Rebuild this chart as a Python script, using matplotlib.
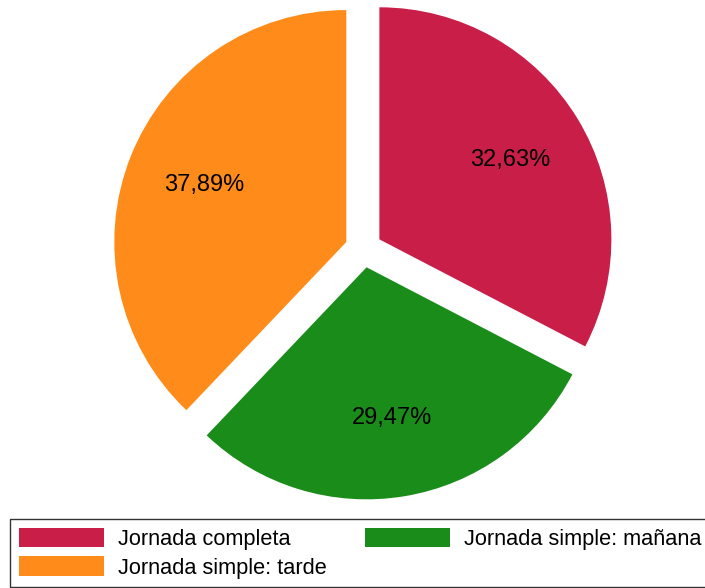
import matplotlib.pyplot as plt
from matplotlib.patches import Patch

plt.rcParams['font.family'] = ['Liberation Sans', 'DejaVu Sans']

# data
labels = ['Jornada completa', 'Jornada simple: mañana', 'Jornada simple: tarde']
counts = [31, 28, 36]
colors = ['#C81E48', '#1A8C1A', '#FF8C1A']

fig = plt.figure(figsize=(7.05, 5.88), dpi=100)
ax = fig.add_axes([0, 0, 1, 1])

ax.pie(counts, colors=colors, startangle=90, counterclock=False,
       explode=[0.08] * len(counts), autopct='%.2f%%', pctdistance=0.66,
       textprops={'fontsize': 17, 'color': 'black'},
       wedgeprops={'linewidth': 0})

# replace decimal point with comma
for t in ax.texts:
    t.set_text(t.get_text().replace('.', ','))

ax.set_aspect('auto')
ax.set_xlim(-1.567, 1.472)
ax.set_ylim(-1.461, 1.073)
ax.axis('off')

# legend filled column-wise: completa, tarde | mañana
order = [0, 2, 1]
handles = [Patch(facecolor=colors[i], label=labels[i]) for i in order]
leg = fig.legend(handles=handles, loc='upper left',
                 bbox_to_anchor=(10 / 705, 1 - 519 / 588), ncol=2,
                 fontsize=15.7, handlelength=3.9, handleheight=1.0,
                 handletextpad=0.64, columnspacing=1.75, labelspacing=0.3,
                 borderpad=0.4, borderaxespad=0, fancybox=False,
                 frameon=True, edgecolor='black')
leg.get_frame().set_linewidth(1.0)

fig.savefig('out.png', dpi=100)
